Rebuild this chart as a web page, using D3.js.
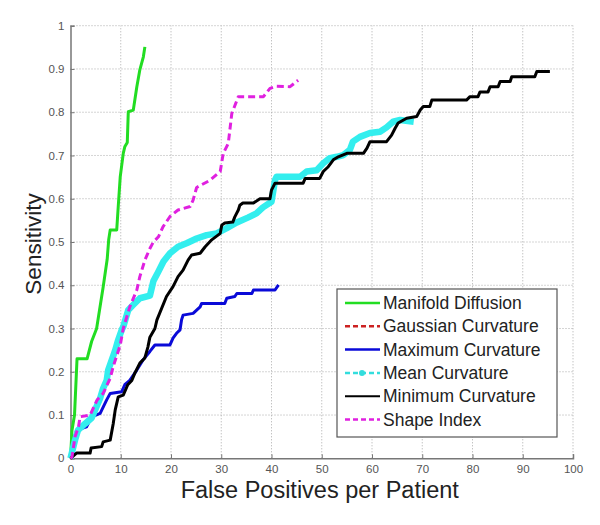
<!DOCTYPE html>
<html><head><meta charset="utf-8">
<script src="https://cdn.jsdelivr.net/npm/d3@7/dist/d3.min.js"></script>
<style>body{margin:0;background:#fff;}svg{display:block;}</style>
</head><body>
<svg id="chart" width="600" height="525"></svg>
<script>
const xTicks = [0,10,20,30,40,50,60,70,80,90,100];
const yTicks = [0,0.1,0.2,0.3,0.4,0.5,0.6,0.7,0.8,0.9,1];
const yTickLabels = ["0","0.1","0.2","0.3","0.4","0.5","0.6","0.7","0.8","0.9","1"];
const seriesNames = ["Manifold Diffusion","Gaussian Curvature","Maximum Curvature","Mean Curvature","Minimum Curvature","Shape Index"];

const manifold = [[0,0],[0.3,0.065],[0.8,0.1],[1.3,0.23],[3.3,0.23],[4.2,0.27],[5.2,0.3],[6.5,0.396],[7.3,0.46],[7.6,0.505],[7.9,0.528],[9.2,0.528],[9.5,0.582],[9.9,0.651],[10.5,0.705],[10.8,0.72],[11.3,0.73],[11.5,0.801],[12.5,0.805],[13.2,0.859],[13.8,0.898],[14.5,0.928],[14.8,0.951]];
const gaussian = [];
const maximum = [[0,0],[0.6,0.04],[1.2,0.065],[3.2,0.073],[4.2,0.096],[5.9,0.104],[7.2,0.135],[7.9,0.15],[10.2,0.154],[10.8,0.17],[11.8,0.18],[13.2,0.204],[14.4,0.227],[15.8,0.247],[16.8,0.262],[19.8,0.262],[20.4,0.278],[21.1,0.289],[21.8,0.297],[22.1,0.32],[22.4,0.331],[24.4,0.335],[25.8,0.35],[26.1,0.358],[30.7,0.358],[31.1,0.37],[32.7,0.374],[33.1,0.381],[36.1,0.381],[36.4,0.389],[40.7,0.389],[41.4,0.401]];
const mean = [[0,0],[0.9,0.042],[1.5,0.065],[2.9,0.08],[4.2,0.093],[4.9,0.112],[5.9,0.139],[6.5,0.162],[7.2,0.18],[7.5,0.204],[8.2,0.227],[8.9,0.25],[9.5,0.274],[10.2,0.297],[10.5,0.304],[11.5,0.343],[12.5,0.355],[13.8,0.37],[15.8,0.376],[16.5,0.41],[17.5,0.432],[18.5,0.455],[19.8,0.474],[21.4,0.489],[23.1,0.497],[25.1,0.508],[27.1,0.516],[29.1,0.52],[31.1,0.532],[33.1,0.545],[35.4,0.557],[37,0.566],[38.3,0.58],[40,0.593],[40.7,0.643],[41,0.651],[45.7,0.651],[47,0.663],[49,0.666],[50.3,0.682],[51.6,0.694],[53,0.697],[54.3,0.701],[55.6,0.713],[56.2,0.732],[57.6,0.743],[59.6,0.752],[61.6,0.755],[62.9,0.765],[64.2,0.778],[65.6,0.782],[68.3,0.778]];
const minimum = [[0,0],[1.2,0.012],[3.9,0.012],[4.1,0.024],[6.2,0.027],[6.5,0.038],[7.9,0.042],[8.5,0.08],[8.9,0.112],[9.5,0.142],[10.5,0.146],[11.4,0.17],[12.2,0.18],[12.8,0.197],[13.8,0.22],[14.8,0.232],[15.4,0.257],[15.8,0.28],[16.8,0.3],[17.2,0.32],[19.1,0.374],[20.4,0.397],[21.4,0.42],[22.4,0.435],[23.4,0.458],[24.1,0.47],[25.8,0.474],[26.8,0.489],[28.1,0.505],[29.8,0.52],[30.1,0.539],[30.7,0.544],[32.3,0.546],[32.7,0.558],[33.4,0.574],[33.7,0.585],[34.3,0.59],[36.4,0.59],[37.7,0.6],[39.7,0.6],[40,0.62],[40.7,0.636],[46.3,0.636],[46.7,0.647],[49.6,0.647],[50.3,0.663],[51.3,0.674],[52.3,0.69],[53.3,0.697],[55,0.705],[58.3,0.705],[59,0.717],[59.6,0.732],[62.9,0.732],[63.9,0.747],[64.6,0.763],[65.2,0.775],[66.9,0.786],[68.9,0.79],[69.6,0.805],[70.2,0.813],[71.5,0.813],[71.9,0.828],[78.8,0.828],[79.5,0.836],[81.1,0.836],[81.5,0.847],[83.1,0.847],[83.5,0.859],[85.1,0.859],[85.5,0.871],[87.5,0.871],[87.8,0.882],[92.4,0.882],[92.8,0.894],[95.4,0.894]];
const shape = [[0,0],[0.3,0.003],[0.9,0.05],[1.6,0.073],[1.9,0.096],[3.9,0.1],[5.3,0.135],[6.5,0.15],[7.9,0.185],[8.5,0.212],[9.9,0.262],[10.5,0.3],[11.8,0.35],[13.2,0.389],[13.8,0.42],[14.8,0.458],[15.8,0.485],[16.5,0.5],[17.5,0.512],[18.4,0.535],[19.8,0.559],[21.4,0.574],[23.8,0.582],[24.4,0.597],[25.1,0.626],[27.8,0.643],[29.8,0.663],[30.4,0.705],[31.4,0.728],[32.1,0.797],[33.4,0.836],[38.4,0.836],[39.7,0.855],[41,0.86],[43.7,0.859],[45.3,0.874]];

const FONT = "Liberation Sans, Arial, Helvetica, sans-serif";
const svg = d3.select("#chart");
const L = 70.5, R = 573, T = 25.7, B = 458.3;
const x = d3.scaleLinear().domain([0,100]).range([L,R]);
const y = d3.scaleLinear().domain([0,1]).range([B,T]);

// grid
const grid = svg.append("g");
grid.selectAll("line.gx").data(xTicks.slice(1)).join("line")
  .attr("x1", d=>x(d)).attr("x2", d=>x(d)).attr("y1", B).attr("y2", T)
  .attr("stroke","#aaa").attr("stroke-width",1).attr("stroke-dasharray","1,2");
grid.selectAll("line.gy").data(yTicks.slice(1)).join("line")
  .attr("y1", d=>y(d)).attr("y2", d=>y(d)).attr("x1", L).attr("x2", R)
  .attr("stroke","#aaa").attr("stroke-width",1).attr("stroke-dasharray","1,2");

// axes
const xAxis = d3.axisBottom(x).tickValues(xTicks).tickSize(-4).tickPadding(7).tickFormat(d3.format("d"));
const yAxis = d3.axisLeft(y).tickValues(yTicks).tickSize(-4).tickPadding(6).tickFormat((d,i)=>yTickLabels[i]);
const gx = svg.append("g").attr("transform",`translate(0,${B})`).call(xAxis);
const gy = svg.append("g").attr("transform",`translate(${L},0)`).call(yAxis);
[gx,gy].forEach(g=>{
  g.select(".domain").attr("stroke","#777").attr("stroke-width",1.5);
  g.selectAll(".tick line").attr("stroke","#777");
  g.selectAll(".tick text").attr("fill","#555").attr("font-family",FONT).attr("font-size",11.5);
});

// lines
const line = d3.line().x(d=>x(d[0])).y(d=>y(d[1]));
const styles = [
  {data:manifold, color:"#22dd22", w:3, dash:null},
  {data:gaussian, color:"#cc2222", w:2, dash:"5,3"},
  {data:maximum, color:"#0a0ad8", w:3, dash:null},
  {data:mean, color:"#33eeee", w:6.5, dash:null},
  {data:minimum, color:"#000", w:3, dash:null},
  {data:shape, color:"#e020e0", w:3, dash:"7,4"}
];
const lg = svg.append("g");
styles.forEach(s=>{
  if (!s.data.length) return;
  lg.append("path").datum(s.data).attr("d",line).attr("fill","none")
    .attr("stroke",s.color).attr("stroke-width",s.w).attr("stroke-linejoin","round")
    .attr("stroke-dasharray",s.dash);
});

// legend
const leg = svg.append("g");
leg.append("rect").attr("x",337).attr("y",289).attr("width",220).attr("height",148)
  .attr("fill","#fff").attr("stroke","#555").attr("stroke-width",1.2);
const legendStyles = [
  {color:"#22dd22", w:2.5, dash:null},
  {color:"#cc2222", w:2.5, dash:"5,3"},
  {color:"#0a0ad8", w:2.5, dash:null},
  {color:"#33dddd", w:2.5, dash:"5,3", marker:true},
  {color:"#000", w:2, dash:null},
  {color:"#e020e0", w:2.5, dash:"5,3"}
];
seriesNames.forEach((n,i)=>{
  const yy = 303 + i*23.3;
  const st = legendStyles[i];
  leg.append("line").attr("x1",345).attr("x2",380).attr("y1",yy).attr("y2",yy)
    .attr("stroke",st.color).attr("stroke-width",st.w).attr("stroke-dasharray",st.dash);
  if (st.marker) leg.append("circle").attr("cx",362).attr("cy",yy).attr("r",3).attr("fill",st.color);
  leg.append("text").attr("x",383).attr("y",yy+6).text(n)
    .attr("font-family",FONT).attr("font-size",17.5).attr("fill","#222");
});

// titles
svg.append("text").attr("x",(L+R)/2 - 2).attr("y",498).attr("text-anchor","middle")
  .attr("font-family",FONT).attr("font-size",23.5).attr("fill","#222")
  .text("False Positives per Patient");
svg.append("text").attr("transform",`translate(41,${(T+B)/2 + 2}) rotate(-90)`).attr("text-anchor","middle")
  .attr("font-family",FONT).attr("font-size",22.5).attr("fill","#222")
  .text("Sensitivity");
</script>
</body></html>
